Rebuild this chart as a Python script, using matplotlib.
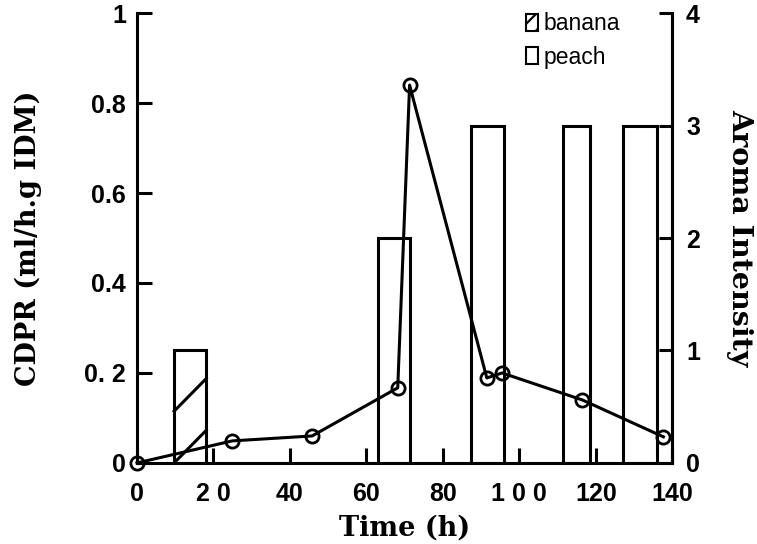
import numpy as np
from matplotlib import pyplot as plt
from matplotlib.patches import Patch

# CDPR curve (left axis)
times = [0, 24.9, 45.8, 68.2, 71.3, 91.5, 95.5, 116.5, 137.7]
cdpr = [0.0, 0.049, 0.06, 0.167, 0.84, 0.189, 0.2, 0.14, 0.058]

# aroma bars (right axis)
bar_start = [9.7, 63.1, 87.4, 111.3, 127.2]
bar_end = [18.1, 71.5, 96.1, 118.6, 135.9]
aroma = [1, 2, 3, 3, 3]
aroma_kind = ['banana', 'peach', 'peach', 'peach', 'peach']

xticks = [0, 20, 40, 60, 80, 100, 120, 140]
xtick_labels = ['0', '2 0', '40', '60', '80', '1 0 0', '120', '140']
yticks = [0, 0.2, 0.4, 0.6, 0.8, 1]
ytick_labels = ['0', '0. 2', '0.4', '0.6', '0.8', '1']
y2ticks = [0, 1, 2, 3, 4]

tick_font = {'family': 'Liberation Sans', 'weight': 'bold', 'size': 18}
label_font = {'family': 'DejaVu Serif', 'weight': 'bold', 'size': 19.5}
lw = 2.2

fig = plt.figure(figsize=(7.57, 5.44), dpi=100)
ax = fig.add_axes([0.181, 0.149, 0.707, 0.827])
ax2 = ax.twinx()

ax.plot(times, cdpr, color='black', lw=lw, marker='o', ms=9.5,
        mfc='none', mec='black', mew=2, clip_on=False, zorder=5)

for s, e, h, kind in zip(bar_start, bar_end, aroma, aroma_kind):
    ax2.bar(s, h, width=e - s, align='edge', facecolor='none',
            edgecolor='black', linewidth=lw)
    if kind == 'banana':
        # sparse diagonal hatch as in the scan
        for k in range(2):
            y0 = k * 0.46
            ax2.plot([s, e], [y0, y0 + 0.29], color='black', lw=lw)

ax.set_xlim(0, 140)
ax.set_ylim(0, 1)
ax2.set_ylim(0, 4)

ax.set_xticks(xticks)
ax.set_xticklabels(xtick_labels, fontdict=tick_font)
ax.set_yticks(yticks)
ax.set_yticklabels(ytick_labels, fontdict=tick_font)
ax2.set_yticks(y2ticks)
ax2.set_yticklabels([str(v) for v in y2ticks], fontdict=tick_font)

for a in (ax, ax2):
    a.spines['top'].set_visible(False)
    for sp in a.spines.values():
        sp.set_linewidth(lw)
    a.tick_params(direction='in', length=11, width=lw, pad=8)
ax2.spines['left'].set_visible(False)
ax2.spines['bottom'].set_visible(False)
ax2.tick_params(length=9.5, pad=10)
ax.tick_params(axis='x', pad=14)

ax.set_xlabel('Time (h)', fontdict=label_font, labelpad=6)
ax.set_ylabel('CDPR (ml/h.g IDM)', fontdict=label_font, labelpad=30)
ax2.set_ylabel('Aroma Intensity', fontdict=dict(label_font, size=20.5),
               rotation=-90, labelpad=38)

plt.rcParams['hatch.linewidth'] = 1.6
handles = [Patch(facecolor='white', edgecolor='black', hatch='//', lw=1.5),
           Patch(facecolor='white', edgecolor='black', lw=1.5)]
ax2.legend(handles, ['banana', 'peach'], loc='upper left',
           bbox_to_anchor=(0.71, 1.022), frameon=False,
           prop={'family': 'Liberation Sans', 'size': 16.5},
           handlelength=0.5, handleheight=0.8, handletextpad=0.25,
           labelspacing=0.45, borderaxespad=0)

fig.savefig('out.png', dpi=100)
